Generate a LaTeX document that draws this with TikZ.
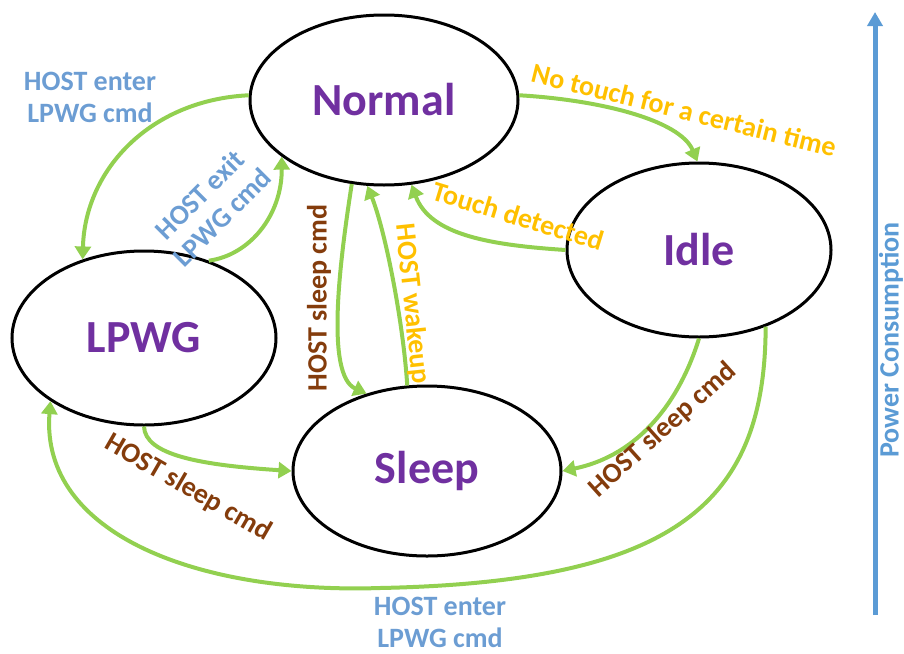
\documentclass[tikz,border=0pt]{standalone}
\usepackage{fontspec}
\setmainfont{Carlito}
\usetikzlibrary{shapes.geometric,arrows.meta}
\definecolor{grn}{HTML}{92D050}
\definecolor{purp}{HTML}{7030A0}
\definecolor{orng}{HTML}{FFC000}
\definecolor{brwn}{HTML}{843C0C}
\definecolor{lblue}{HTML}{6C9DD3}
\definecolor{axblue}{HTML}{5B9BD5}
\begin{document}
\begin{tikzpicture}[x=1pt,y=-1pt,
  state/.style={ellipse,draw=black,line width=3pt,inner sep=0pt,
    font=\fontsize{46}{50}\selectfont\bfseries,text=purp},
  tr/.style={draw=grn,line width=4pt,-{Triangle[length=13pt,width=16pt]}},
  lab/.style={font=\fontsize{28}{32}\selectfont\bfseries,inner sep=0pt,align=center},
  axis/.style={draw=axblue,line width=5pt,-{Triangle[length=14pt,width=15pt]}}
]
\useasboundingbox (0,0) rectangle (904,653);
\node[state,minimum width=268pt,minimum height=170pt] (N) at (384,100) {Normal};
\node[state,minimum width=264pt,minimum height=174pt] (I) at (699,250) {Idle};
\node[state,minimum width=264pt,minimum height=174pt] (L) at (144,338) {LPWG};
\node[state,minimum width=268pt,minimum height=170pt] (S) at (427,471) {Sleep};

\draw[tr] (N.178) .. controls (150,100) and (85,170) .. (L.128);
\draw[tr] (L.50) .. controls (250,255) and (282,215) .. (N.209);
\draw[tr] (N.249) .. controls (340,260) and (325,375) .. (S.128);
\draw[tr] (S.103) .. controls (403,320) and (385,230) .. (N.259);
\draw[tr] (N.2) .. controls (600,100) and (680,120) .. (I.91);
\draw[tr] (I.180) .. controls (490,245) and (430,235) .. (N.288);
\draw[tr] (I.270) .. controls (680,400) and (640,455) .. (S.0);
\coordinate (bend) at (380,588);
\draw[tr] (I.311) .. controls (765,500) and (680,582) .. (bend)
  .. controls (200,594) and (40,535) .. (L.214);
\draw[tr] (L.270) .. controls (145,455) and (200,465) .. (S.180);

\node[lab,text=lblue] (l1) at (90,97) {HOST enter\\LPWG cmd};
\node[lab,text=lblue,rotate=45] (l2) at (211,206) {HOST exit\\LPWG cmd};
\node[lab,text=brwn,rotate=90] (l3) at (319,298) {HOST sleep cmd};
\node[lab,text=orng,rotate=-84] (l4) at (412,304) {HOST wakeup};
\node[lab,text=orng,rotate=-14] (l5) at (684,110) {No touch for a certain time};
\node[lab,text=orng,rotate=-17] (l6) at (518,216) {Touch detected};
\node[lab,text=brwn,rotate=42] (l7) at (663,430) {HOST sleep cmd};
\node[lab,text=brwn,rotate=-30] (l8) at (188,488) {HOST sleep cmd};
\node[lab,text=lblue] (l9) at (440,622) {HOST enter\\LPWG cmd};

\coordinate (ax0) at (875,615);
\coordinate (ax1) at (875,12);
\draw[axis] (ax0) -- (ax1);
\node[lab,text=axblue,rotate=90] (l10) at (891,340) {Power Consumption};
\end{tikzpicture}
\end{document}
